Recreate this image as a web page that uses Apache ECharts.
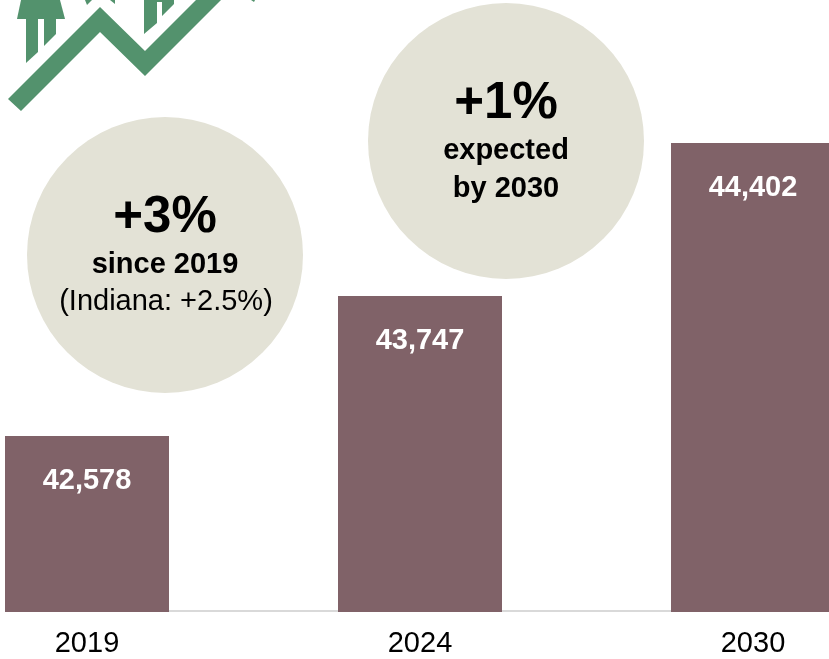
<!DOCTYPE html>
<html>
<head>
<meta charset="utf-8">
<style>
  html, body { margin: 0; padding: 0; background: #fff; }
  #chart { width: 829px; height: 659px; overflow: hidden; }
</style>
<script src="https://cdn.jsdelivr.net/npm/echarts@6/dist/echarts.min.js"></script>
</head>
<body>
<div id="chart"></div>
<script>
var years = ['2019', '2024', '2030'];
// printed values
var population = ['42,578', '43,747', '44,402'];
// the bars in the picture are not to scale with the printed values, so these are the bar heights as read off it
var barHeights = [176, 316, 469];

var font = '"Liberation Sans", Arial, sans-serif';
var green = '#53926D';

function logoPiece(points) {
    return { type: 'polygon', shape: { points: points }, style: { fill: green } };
}

function text(x, y, str, size, weight) {
    return {
        type: 'text',
        x: x,
        y: y,
        style: {
            text: str,
            fill: '#000',
            font: weight + ' ' + size + 'px ' + font,
            align: 'center',
            verticalAlign: 'middle'
        }
    };
}

var chart = echarts.init(document.getElementById('chart'));
chart.setOption({
    animation: false,
    grid: { left: 87, width: 666, top: 12, height: 600 },
    xAxis: {
        type: 'category',
        data: years,
        boundaryGap: false,
        offset: -1,
        axisLine: { lineStyle: { color: '#D9D9D9', width: 2 } },
        axisTick: { show: false },
        axisLabel: { color: '#000', fontFamily: font, fontSize: 29, margin: 18, interval: 0, hideOverlap: false }
    },
    yAxis: { type: 'value', min: 0, max: 600, show: false },
    series: [{
        type: 'bar',
        data: barHeights,
        barWidth: 164,
        itemStyle: { color: '#806268' },
        label: {
            show: true,
            position: 'insideTop',
            distance: 30,
            color: '#fff',
            fontFamily: font,
            fontWeight: 'bold',
            fontSize: 29,
            formatter: function (p) { return population[p.dataIndex]; }
        }
    }],
    graphic: [
        { type: 'circle', shape: { cx: 165, cy: 255, r: 138 }, style: { fill: '#E3E2D6' } },
        { type: 'circle', shape: { cx: 506, cy: 141, r: 138 }, style: { fill: '#E3E2D6' } },
        text(165, 218, '+3%', 51, 'bold'),
        text(165, 265, 'since 2019', 29, 'bold'),
        text(166, 302, '(Indiana: +2.5%)', 29, 'normal'),
        text(506, 104, '+1%', 51, 'bold'),
        text(506, 151, 'expected', 29, 'bold'),
        text(506, 189, 'by 2030', 29, 'bold'),
        // logo, cut off by the top of the picture
        logoPiece([[8, 99], [100, 7], [145, 51], [196, 0], [221, 0], [145, 76], [100, 32], [21, 111]]),
        logoPiece([[21, 0], [60, 0], [65, 19], [17, 19]]),
        logoPiece([[26, 19], [38, 19], [38, 52], [26, 63]]),
        logoPiece([[44, 19], [56, 19], [56, 34], [44, 46]]),
        logoPiece([[85, 0], [92, 0], [87, 5]]),
        logoPiece([[110, 0], [115, 0], [115, 4]]),
        logoPiece([[144, 0], [174, 0], [174, 4], [162, 16], [162, 2], [157, 2], [157, 23], [144, 34]]),
        logoPiece([[251, 0], [255, 0], [254, 2]])
    ]
});
</script>
</body>
</html>
